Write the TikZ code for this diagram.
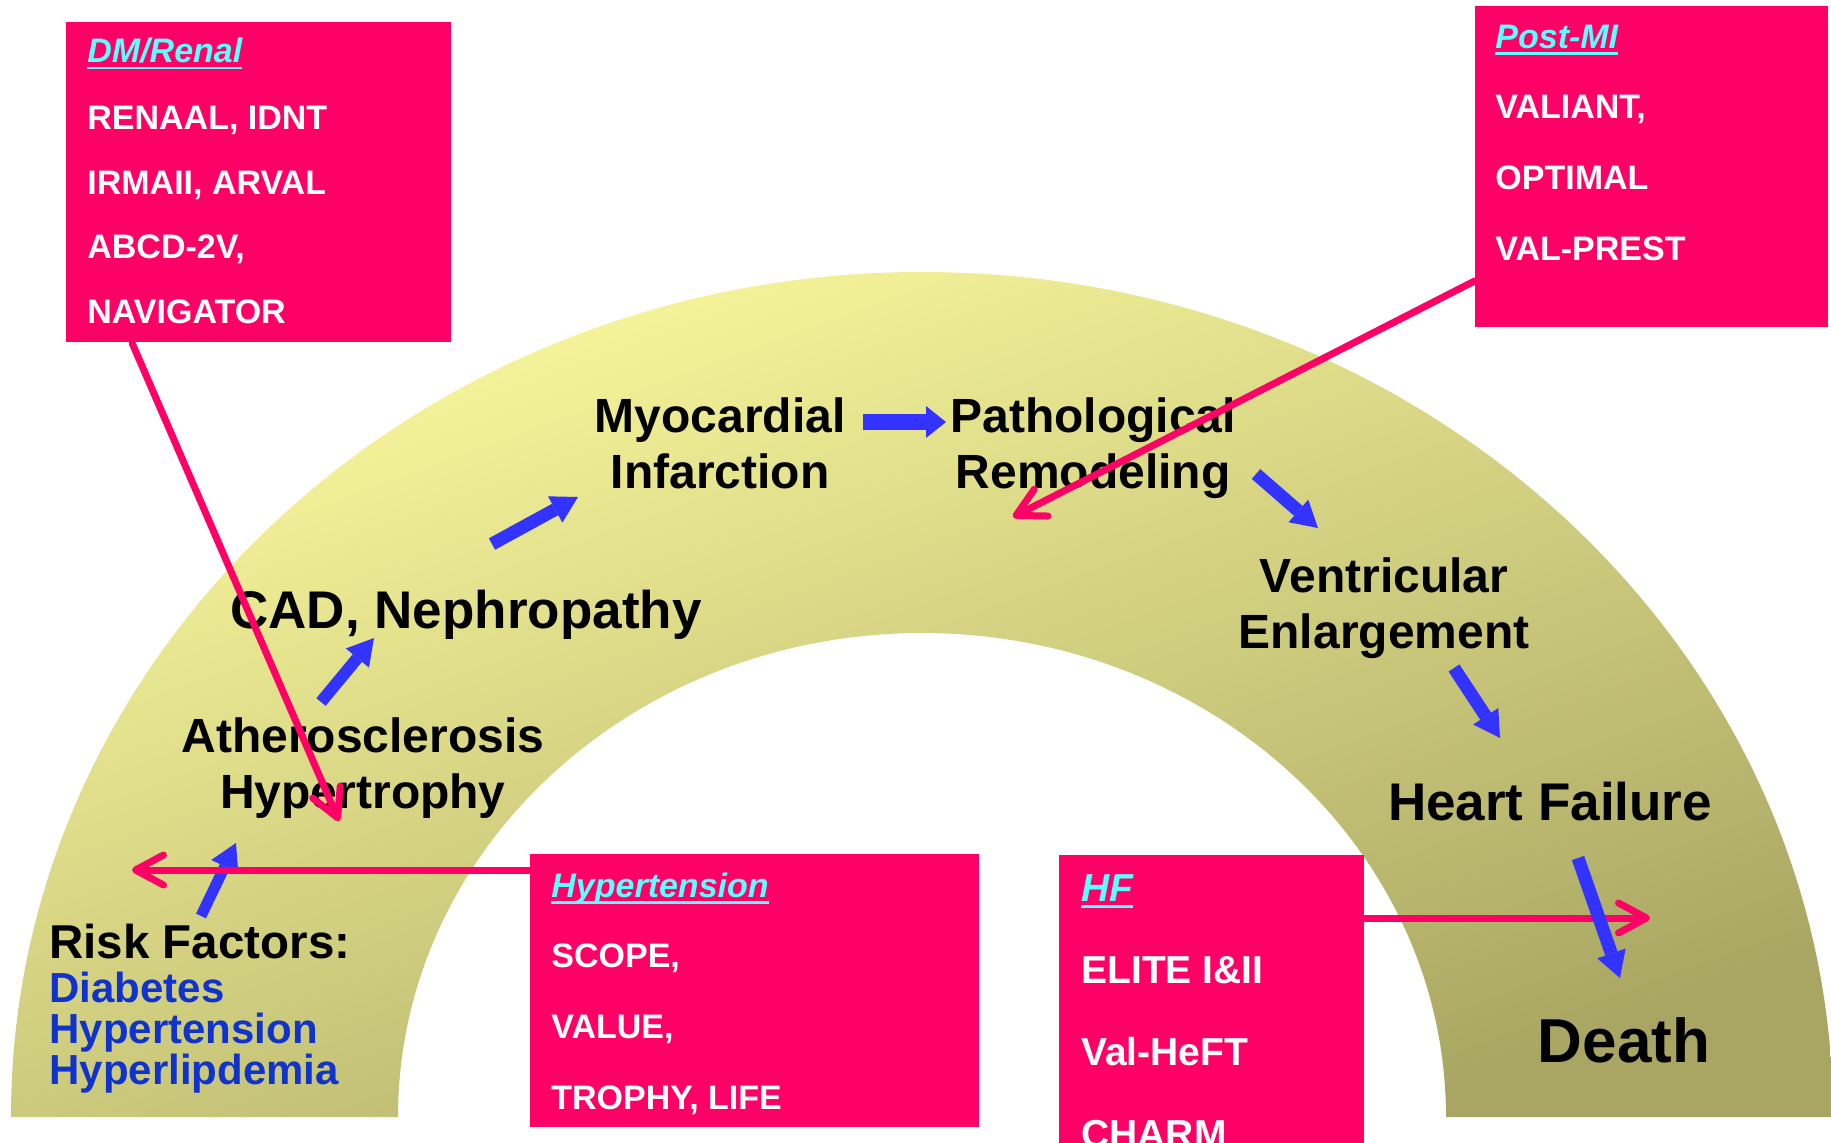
\documentclass[tikz,border=0pt]{standalone}
\usepackage{fontspec}
\setmainfont{Liberation Sans}
\usetikzlibrary{arrows.meta}
\definecolor{pinkbox}{HTML}{FF0066}
\definecolor{cyantitle}{HTML}{5CFFFF}
\definecolor{arrowblue}{HTML}{3333FF}
\definecolor{textblue}{HTML}{1033CC}
\definecolor{arclight}{HTML}{FBFA9E}
\definecolor{arcdark}{HTML}{A9A663}
\newcommand\titleul[1]{\setbox0\hbox{#1}\rlap{\rule[-3.3pt]{\wd0}{1.3pt}}\box0}
\newcommand\boxtitle[1]{{\color{cyantitle}\itshape\titleul{#1}}}
\begin{document}
\begin{tikzpicture}[x=0.5pt,y=-0.5pt,
  lbl/.style={font=\bfseries\fontsize{24}{28}\selectfont, align=center, inner sep=0pt, anchor=base},
  biglbl/.style={lbl, font=\bfseries\fontsize{26.5}{30}\selectfont},
  boxrect/.style={fill=pinkbox, draw=none, inner sep=0pt, anchor=north west},
  boxtext/.style={text=white, anchor=base west, inner sep=0pt, align=left},
  blk/.style={draw=arrowblue, line width=6.5pt, -{Triangle[length=13pt,width=15pt,line width=0pt]}},
  pk/.style={draw=pinkbox, line width=3.5pt, line cap=round, -{Straight Barb[length=14pt,width=15pt,round]}}
]
\useasboundingbox (0,0) rectangle (1831,1142);
\clip (0,0) rectangle (1831,1142);
\fill[white] (0,0) rectangle (1831,1142);

% block arc
\shade[top color=arclight, bottom color=arcdark, shading angle=20]
  (11,1117) arc[start angle=180, end angle=360, x radius=911, y radius=845]
  -- (1446,1117) arc[start angle=0, end angle=-180, x radius=524, y radius=484] -- cycle;

% stage labels (anchor = baseline of the last line)
\node[lbl] (mi) at (720,488) {Myocardial\\Infarction};
\node[lbl] (path) at (1093,488) {Pathological\\Remodeling};
\node[biglbl] (cad) at (466,628) {CAD, Nephropathy};
\node[lbl] (ath) at (363,808) {Atherosclerosis\\Hypertrophy};
\node[lbl] (vent) at (1384,648) {Ventricular\\Enlargement};
\node[biglbl] (hf) at (1550,820) {Heart Failure};
\node[lbl, font=\bfseries\fontsize{31}{34}\selectfont] (death) at (1624,1062) {Death};
\node[anchor=base west, inner sep=0pt, font=\bfseries\fontsize{23.75}{28}\selectfont] (risk) at (49,958) {Risk Factors:};
\node[anchor=base west, inner sep=0pt, align=left, text=textblue, font=\bfseries\fontsize{21}{20.5}\selectfont] (riskitems) at (49,1084) {Diabetes\\Hypertension\\Hyperlipdemia};

% blue arrow end points
\coordinate (a1s) at (201,916); \coordinate (a1e) at (236,843);
\coordinate (a2s) at (321,702); \coordinate (a2e) at (374,638);
\coordinate (a3s) at (492,544); \coordinate (a3e) at (578,497);
\coordinate (a4s) at (863,422); \coordinate (a4e) at (946,422);
\coordinate (a5s) at (1256,474); \coordinate (a5e) at (1318,528);
\coordinate (a6s) at (1454,668); \coordinate (a6e) at (1500,738);
\coordinate (a7s) at (1578,858); \coordinate (a7e) at (1620,978);

\draw[blk, line width=5.5pt] (a1s) -- (a1e);
\draw[blk, line width=6pt] (a2s) -- (a2e);
\draw[blk] (a3s) -- (a3e);
\draw[blk, line width=8pt, -{Triangle[length=10pt,width=16pt,line width=0pt]}] (a4s) -- (a4e);
\draw[blk] (a5s) -- (a5e);
\draw[blk] (a6s) -- (a6e);

% boxes
\node[boxrect, minimum width=192.5pt, minimum height=160pt] (dmbox) at (66,22) {};
\node[boxrect, minimum width=176.5pt, minimum height=160.5pt] (pmibox) at (1475,6) {};
\node[boxrect, minimum width=224.5pt, minimum height=136.5pt] (htbox) at (530,854) {};
\node[boxrect, minimum width=152.5pt, minimum height=172.5pt] (hfbox) at (1059,855) {};

% pink connectors
\coordinate (dmtip) at (339,821);
\coordinate (pmitip) at (1013,517);
\coordinate (httip) at (132,870);
\coordinate (hftip) at (1650,918);
\draw[pk] ([xshift=33pt]dmbox.south west) -- (dmtip);
\draw[pk] ([yshift=23.5pt]pmibox.south west) -- (pmitip);
\draw[pk] ([yshift=-8pt]htbox.north west) -- (httip);
\draw[pk] ([yshift=-31.5pt]hfbox.north east) -- (hftip);
\draw[blk] (a7s) -- (a7e);

% box texts (anchor = baseline of the last line)
\node[boxtext, font=\bfseries\fontsize{17}{32.25}\selectfont] (dmtext) at (87,323)
  {\boxtitle{DM/Renal}\\[1.2pt]RENAAL, IDNT\\IRMAII, ARVAL\\ABCD-2V,\\NAVIGATOR};
\node[boxtext, font=\bfseries\fontsize{17}{35.3}\selectfont] (pmitext) at (1495,260)
  {\boxtitle{Post-MI}\\VALIANT,\\OPTIMAL\\VAL-PREST};
\node[boxtext, font=\bfseries\fontsize{17}{35.3}\selectfont] (httext) at (551,1109)
  {\boxtitle{Hypertension}\\SCOPE,\\VALUE,\\TROPHY, LIFE};
\node[boxtext, font=\bfseries\fontsize{19.5}{41}\selectfont] (hftext) at (1081,1147)
  {\boxtitle{HF}\\ELITE I\&II\\Val-HeFT\\CHARM};
\end{tikzpicture}
\end{document}
